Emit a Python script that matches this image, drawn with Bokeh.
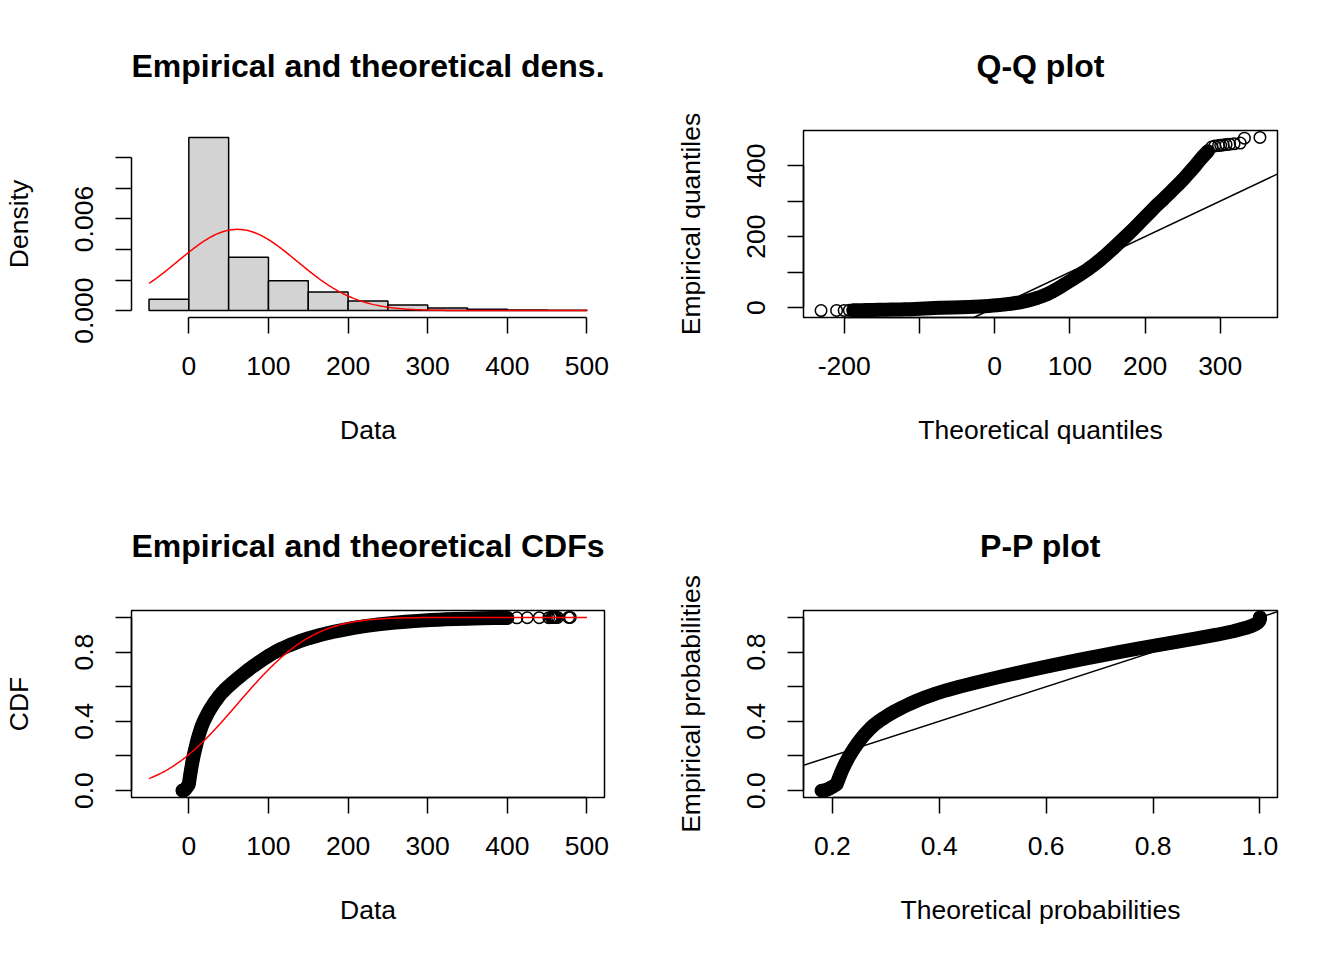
import numpy as np
from statistics import NormalDist
from bokeh.plotting import figure
from bokeh.layouts import column, row
from bokeh.models import Range1d, FixedTicker, Slope, LinearAxis
from bokeh.embed import file_html
from bokeh.resources import INLINE

# ---------------- data ----------------
hist_edges = [-50, 0, 50, 100, 150, 200, 250, 300, 350, 400, 450, 500]
hist_density = [0.00074, 0.01134, 0.00349, 0.00196, 0.00122, 0.00063,
                0.00036, 0.00017, 0.00008, 0.00004, 0.00002]

fit_mean = 61.0
fit_sd = 75.0

# empirical probabilities and the matching sorted data values (sample quantiles)
ecdf_prob = [0.00005, 0.00015, 0.00025, 0.00035, 0.00045, 0.0006, 0.0008, 0.001, 0.0015, 0.002,
             0.003, 0.004, 0.005, 0.0065, 0.008, 0.010, 0.013, 0.016, 0.020, 0.025,
             0.030, 0.037,
             0.04, 0.06, 0.08, 0.10, 0.12, 0.14, 0.16, 0.18, 0.20,
             0.22, 0.24, 0.26, 0.28, 0.30, 0.32, 0.34, 0.36, 0.38, 0.40,
             0.42, 0.44, 0.46, 0.48, 0.50, 0.52, 0.54, 0.56, 0.58, 0.60,
             0.62, 0.64, 0.66, 0.68, 0.70, 0.72, 0.74, 0.76, 0.78, 0.80,
             0.82, 0.84, 0.86, 0.88, 0.90, 0.92, 0.94,
             0.95, 0.96, 0.97, 0.975, 0.98, 0.985, 0.987, 0.989, 0.991, 0.993,
             0.994, 0.995, 0.996, 0.997, 0.9975, 0.998, 0.9985, 0.9988, 0.999, 0.9992,
             0.9993, 0.9994, 0.9995, 0.9996, 0.9997, 0.9998, 0.99985, 0.99995]
ecdf_value = [-8.0, -7.7, -7.5, -7.3, -7.2, -7.0, -6.8, -6.6, -6.3, -6.0,
              -5.6, -5.3, -5.0, -4.7, -4.4, -4.0, -3.5, -3.0, -2.4, -1.6,
              -0.9, 0.0,
              0.09, 0.72, 1.36, 2.03, 2.75, 3.49, 4.28, 5.13, 6.0,
              7.0, 8.0, 9.05, 10.15, 11.3, 12.55, 13.9, 15.3, 16.9, 18.8,
              20.9, 23.1, 25.5, 28.1, 30.9, 33.9, 37.1, 40.7, 44.7, 49.2,
              54.1, 59.2, 64.4, 69.8, 75.4, 81.3, 87.5, 94.0, 100.8, 108.3,
              116.8, 126.5, 137.6, 150.6, 166.0, 184.5, 207.0,
              221.0, 238.0, 259.0, 272.0, 287.0, 304.0, 313.0, 323.0, 335.0, 349.0,
              358.0, 369.0, 383.0, 400.0, 412.0, 425.0, 440.0, 452.0, 455.0, 456.0,
              457.0, 458.0, 459.0, 460.0, 461.0, 463.0, 477.0, 479.0]
assert len(ecdf_prob) == len(ecdf_value)

# tick positions and labels
hist_x_ticks = [0, 100, 200, 300, 400, 500]
hist_x_labels = ["0", "100", "200", "300", "400", "500"]
hist_y_ticks = [0.0, 0.002, 0.004, 0.006, 0.008, 0.010]
hist_y_labels = ["0.000", "", "", "0.006", "", ""]
qq_x_ticks = [-200, -100, 0, 100, 200, 300]
qq_x_labels = ["-200", "", "0", "100", "200", "300"]
qq_y_ticks = [0, 100, 200, 300, 400]
qq_y_labels = ["0", "", "200", "", "400"]
prob_ticks = [0.0, 0.2, 0.4, 0.6, 0.8, 1.0]
prob_labels_y = ["0.0", "", "0.4", "", "0.8", ""]
pp_x_ticks = [0.2, 0.4, 0.6, 0.8, 1.0]
pp_x_labels = ["0.2", "0.4", "0.6", "0.8", "1.0"]

# ---------------- derived quantities ----------------
nd = NormalDist(fit_mean, fit_sd)
qq_theo = [nd.inv_cdf(p) for p in ecdf_prob]
pp_theo = [nd.cdf(v) for v in ecdf_value]
curve_x = np.linspace(hist_edges[0], hist_edges[-1], 400)
curve_pdf = [nd.pdf(x) for x in curve_x]
curve_cdf = [nd.cdf(x) for x in curve_x]


def ext(lo, hi):
    d = (hi - lo) * 0.04
    return lo - d, hi + d


FONT = "Liberation Sans"
LW = 1.5
PT_SIZE = 11.5
PT_LW = 1.5
BAND_W = 14.0


def make_fig(xr, yr, bl, br, bt, bb, title, xlabel, ylabel, boxed=True):
    p = figure(width=672, height=480, x_range=Range1d(*xr), y_range=Range1d(*yr),
               output_backend="svg", toolbar_location=None,
               min_border_left=bl, min_border_right=br,
               min_border_top=bt, min_border_bottom=bb)
    p.title.visible = False
    p.grid.visible = False
    p.background_fill_color = "white"
    p.border_fill_color = "white"
    if boxed:
        p.outline_line_color = "black"
        p.outline_line_width = LW
        p.outline_line_alpha = 1.0
    else:
        p.outline_line_color = None
    bx = p.below[0]
    ly = p.left[0]
    for ax, lab in ((bx, xlabel), (ly, ylabel)):
        ax.axis_label = lab
        ax.axis_label_text_font = FONT
        ax.axis_label_text_font_size = "26.5px"
        ax.axis_label_text_font_style = "normal"
        ax.axis_label_text_color = "black"
        ax.major_label_text_font = FONT
        ax.major_label_text_font_size = "26.5px"
        ax.major_label_text_color = "black"
        ax.major_tick_out = 16
        ax.major_tick_in = 0
        ax.minor_tick_out = 0
        ax.minor_tick_in = 0
        ax.major_tick_line_width = LW
        ax.major_tick_line_color = "black"
        ax.axis_line_width = LW
        ax.axis_line_color = "black"
    bx.major_label_standoff = 23
    bx.axis_label_standoff = 37
    ly.major_label_standoff = 22
    ly.axis_label_standoff = 39
    ly.major_label_orientation = "vertical"
    # main title as the label of an empty axis above the frame
    tax = LinearAxis(ticker=FixedTicker(ticks=[]), axis_label=title,
                     axis_line_color=None, major_tick_out=0, major_tick_in=0,
                     minor_tick_out=0, minor_tick_in=0, major_label_standoff=0,
                     major_label_text_font_size="0px",
                     axis_label_text_font=FONT, axis_label_text_font_size="32px",
                     axis_label_text_font_style="bold", axis_label_text_color="black",
                     axis_label_standoff=47)
    p.add_layout(tax, "above")
    return p, bx, ly


def set_ticks(ax, ticks, labels):
    ax.ticker = FixedTicker(ticks=ticks)
    ax.major_label_overrides = {t: l for t, l in zip(ticks, labels)}
    ax.bounds = (ticks[0], ticks[-1])


# ---------------- 1. histogram + density ----------------
hx = ext(hist_edges[0], hist_edges[-1])
hy = ext(0, max(max(hist_density), max(curve_pdf)))
p1, p1x, p1y = make_fig(hx, hy, 130, 68, 130, 163, "Empirical and theoretical dens.",
                        "Data", "Density", boxed=False)
p1.quad(left=hist_edges[:-1], right=hist_edges[1:], bottom=0, top=hist_density,
        fill_color="#D3D3D3", line_color="black", line_width=LW)
p1.line(curve_x, curve_pdf, line_color="red", line_width=LW)
set_ticks(p1x, hist_x_ticks, hist_x_labels)
set_ticks(p1y, hist_y_ticks, hist_y_labels)

# ---------------- 2. Q-Q plot ----------------
qx = ext(min(qq_theo), max(qq_theo))
qy = ext(min(ecdf_value), max(ecdf_value))
p2, p2x, p2y = make_fig(qx, qy, 131, 67, 130, 163, "Q-Q plot", "Theoretical quantiles",
                        "Empirical quantiles")
dense_qq = [i for i, pr in enumerate(ecdf_prob) if 0.0004 <= pr <= 0.9985]
p2.line([qq_theo[i] for i in dense_qq], [ecdf_value[i] for i in dense_qq],
        line_color="black", line_width=BAND_W, line_join="round", line_cap="round")
p2.scatter(qq_theo, ecdf_value, marker="circle", size=PT_SIZE, fill_color=None,
           line_color="black", line_width=PT_LW)
p2.add_layout(Slope(gradient=1, y_intercept=0, line_color="black", line_width=LW))
set_ticks(p2x, qq_x_ticks, qq_x_labels)
set_ticks(p2y, qq_y_ticks, qq_y_labels)

# ---------------- 3. CDF ----------------
cx = ext(hist_edges[0], hist_edges[-1])
cy = ext(0, 1)
p3, p3x, p3y = make_fig(cx, cy, 130, 68, 130, 163, "Empirical and theoretical CDFs",
                        "Data", "CDF")
dense_cdf = [i for i, pr in enumerate(ecdf_prob) if pr <= 0.997]
p3.line([ecdf_value[i] for i in dense_cdf], [ecdf_prob[i] for i in dense_cdf],
        line_color="black", line_width=BAND_W, line_join="round", line_cap="round")
p3.scatter(ecdf_value, ecdf_prob, marker="circle", size=PT_SIZE, fill_color=None,
           line_color="black", line_width=PT_LW)
p3.line(curve_x, curve_cdf, line_color="red", line_width=LW)
set_ticks(p3x, hist_x_ticks, hist_x_labels)
set_ticks(p3y, prob_ticks, prob_labels_y)

# ---------------- 4. P-P plot ----------------
px_ = ext(min(pp_theo), max(pp_theo))
py_ = ext(min(ecdf_prob), max(ecdf_prob))
p4, p4x, p4y = make_fig(px_, py_, 131, 67, 130, 163, "P-P plot",
                        "Theoretical probabilities", "Empirical probabilities")
dense_pp = [i for i, pr in enumerate(ecdf_prob) if pr >= 0.0005]
p4.line([pp_theo[i] for i in dense_pp], [ecdf_prob[i] for i in dense_pp],
        line_color="black", line_width=BAND_W, line_join="round", line_cap="round")
p4.scatter(pp_theo, ecdf_prob, marker="circle", size=PT_SIZE, fill_color=None,
           line_color="black", line_width=PT_LW)
p4.add_layout(Slope(gradient=1, y_intercept=0, line_color="black", line_width=LW))
set_ticks(p4x, pp_x_ticks, pp_x_labels)
set_ticks(p4y, prob_ticks, prob_labels_y)

layout = column(row(p1, p2), row(p3, p4))
open("out.html", "w").write(file_html(layout, INLINE))
